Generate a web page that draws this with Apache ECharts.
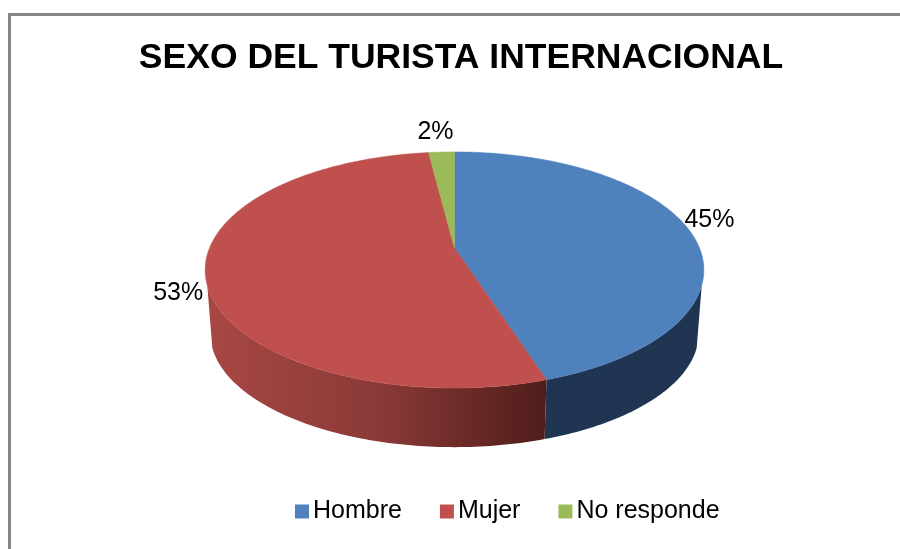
<!DOCTYPE html>
<html>
<head>
<meta charset="utf-8">
<style>html,body{margin:0;padding:0;background:#fff}#c{width:900px;height:549px}</style>
<script src="https://cdn.jsdelivr.net/npm/echarts@6/dist/echarts.min.js"></script>
</head>
<body>
<div id="c"></div>
<script>
const titleText = 'SEXO DEL TURISTA INTERNACIONAL';
const categories = ['Hombre', 'Mujer', 'No responde'];
const values = [45, 53, 2];
const labels = ['45%', '53%', '2%'];

const colors = ['#4f81bd', '#c0504d', '#9bbb59'];
const wallFills = [
  () => '#1f3552',
  () => new echarts.graphic.LinearGradient(208, 0, 548, 0, [
    { offset: 0, color: '#a84744' },
    { offset: 0.5, color: '#8a3a37' },
    { offset: 1, color: '#4f1c1a' }
  ], true),
  () => '#5d7135'
];
const labelNudge = [[-3, -9], [-1, 16], [-5, -12]];

const persp = 0.186;
const topFace = { cx: 454.5, cy: 248, a: 245, b: 114 };
const baseFace = { cx: 454.5, cy: 312, a: 240, b: 110 };
const wallFrom = 108, wallTo = 252;
const total = values.reduce((s, v) => s + v, 0);

function project(f, deg, r) {
  const t = deg * Math.PI / 180;
  const X = Math.sin(t) * r, Y = Math.cos(t) * r;
  const d = 1 + persp * Y;
  return [f.cx + f.a * X / d, f.cy - f.b * Y / d];
}
function arc(f, from, to) {
  const pts = [];
  const n = Math.max(2, Math.ceil(Math.abs(to - from)));
  for (let i = 0; i <= n; i++) pts.push(project(f, from + (to - from) * i / n, 1));
  return pts;
}
function renderSlice(idx) {
  return function (params, api) {
    let before = 0;
    for (let i = 0; i < idx; i++) before += values[i];
    const start = before / total * 360;
    const end = start + api.value(0) / total * 360;
    const children = [];
    const a0 = Math.max(start, wallFrom), a1 = Math.min(end, wallTo);
    if (a1 > a0) {
      const wall = arc(topFace, a0, a1).concat(arc(baseFace, a1, a0));
      children.push({ type: 'polygon', shape: { points: wall },
        style: { fill: wallFills[idx](), stroke: null } });
    }
    const top = [[topFace.cx, topFace.cy]].concat(arc(topFace, start, end));
    children.push({ type: 'polygon', shape: { points: top },
      style: { fill: colors[idx], stroke: colors[idx], lineWidth: 0.5 } });
    const lp = project(topFace, (start + end) / 2, 1.1);
    children.push({ type: 'text', z2: 10, style: {
      text: labels[idx], x: lp[0] + labelNudge[idx][0], y: lp[1] + labelNudge[idx][1],
      fill: '#000', font: '25px "Liberation Sans"', align: 'center', verticalAlign: 'middle' } });
    return { type: 'group', children };
  };
}

const chart = echarts.init(document.getElementById('c'), null, { renderer: 'canvas' });
chart.setOption({
  animation: false,
  backgroundColor: '#fff',
  title: {
    text: titleText, left: 456, top: 35, textAlign: 'center',
    textStyle: { fontFamily: 'Liberation Sans', fontWeight: 'bold', fontSize: 35.5, color: '#000' }
  },
  legend: {
    data: categories, left: 295, top: 499, orient: 'horizontal',
    icon: 'rect', itemWidth: 14, itemHeight: 14, itemGap: 38, padding: 0,
    textStyle: { fontFamily: 'Liberation Sans', fontSize: 25, color: '#000', padding: [0, 0, 0, -1] },
    selectedMode: false
  },
  graphic: [{
    type: 'polyline', silent: true, z: 0,
    shape: { points: [[9.5, 560], [9.5, 14.5], [910, 14.5]] },
    style: { stroke: '#868686', lineWidth: 3, fill: null }
  }],
  series: categories.map((name, i) => ({
    type: 'custom', name, coordinateSystem: 'none', silent: true,
    itemStyle: { color: colors[i] },
    data: [values[i]],
    renderItem: renderSlice(i)
  }))
});
</script>
</body>
</html>
